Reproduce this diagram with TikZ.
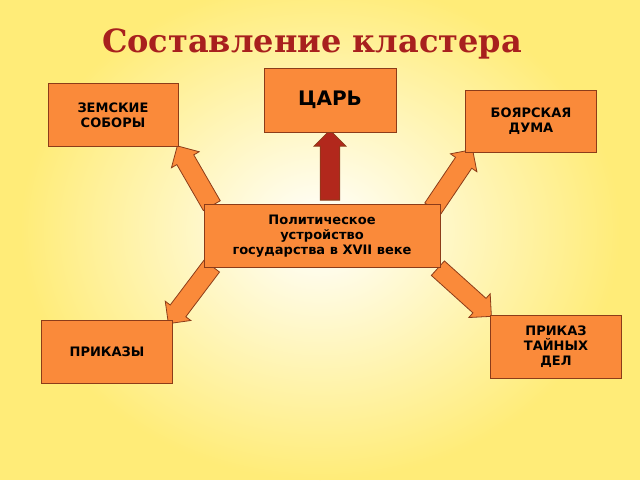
\documentclass[tikz,border=0pt]{standalone}
\usepackage{fontspec}
\setmainfont{DejaVu Sans}
\newfontfamily\titlefont{DejaVu Serif}
\usetikzlibrary{shapes.arrows}
\definecolor{boxfill}{RGB}{250,138,58}
\definecolor{boxline}{RGB}{140,60,25}
\definecolor{titlered}{RGB}{168,32,30}
\definecolor{bgyellow}{RGB}{255,236,120}
\definecolor{darkarrow}{RGB}{178,40,28}
\begin{document}
\begin{tikzpicture}[x=1pt,y=1pt]
        \tikzstyle{topic}=[rectangle,draw=boxline,fill=boxfill,thick,align=center,font=\bfseries\fontsize{13}{15}\selectfont,minimum width=130,minimum height=63,inner sep=2pt]
        \tikzstyle{pointer}=[single arrow,draw=boxline,fill=boxfill,thick,minimum width=32,single arrow head extend=6,inner xsep=0pt,inner ysep=9pt]
        \useasboundingbox (0,0) rectangle (640,480);
        % background
        \fill[bgyellow] (0,0) rectangle (640,480);
        \shade[inner color=white,outer color=bgyellow] (320,250) ellipse (300 and 250);
        \node[font=\titlefont\bfseries\fontsize{32}{36}\selectfont,text=titlered] (title) at (312,436) {Составление кластера};
       \begin{scope}
         % arrows
         \node[pointer,fill=darkarrow,minimum height=70,rotate=90] (a1) at (330,310) {};
         \node[pointer,minimum height=69,rotate=120] (a2) at (197,300) {};
         \node[pointer,minimum height=71,rotate=56] (a3) at (450,297) {};
         \node[pointer,minimum height=72,rotate=233] (a4) at (193,189) {};
         \node[pointer,minimum height=72,rotate=-42] (a5) at (461,191) {};
         % boxes
         \node[topic,minimum width=236] (center) at (322,244) {Политическое\\устройство\\государства в XVII веке};
         \node[topic,minimum width=132,minimum height=64,font=\bfseries\fontsize{20}{22}\selectfont] (tsar) at (330,380) {ЦАРЬ};
         \node[topic] (sobory) at (113,365) {ЗЕМСКИЕ\\СОБОРЫ};
         \node[topic,minimum width=131,minimum height=62] (duma) at (531,359) {БОЯРСКАЯ\\ДУМА};
         \node[topic,minimum width=131] (prikazy) at (107,128) {ПРИКАЗЫ};
         \node[topic,minimum width=131] (tainye) at (556,133) {ПРИКАЗ\\ТАЙНЫХ\\ДЕЛ};
        \end{scope}
\end{tikzpicture}
\end{document}
